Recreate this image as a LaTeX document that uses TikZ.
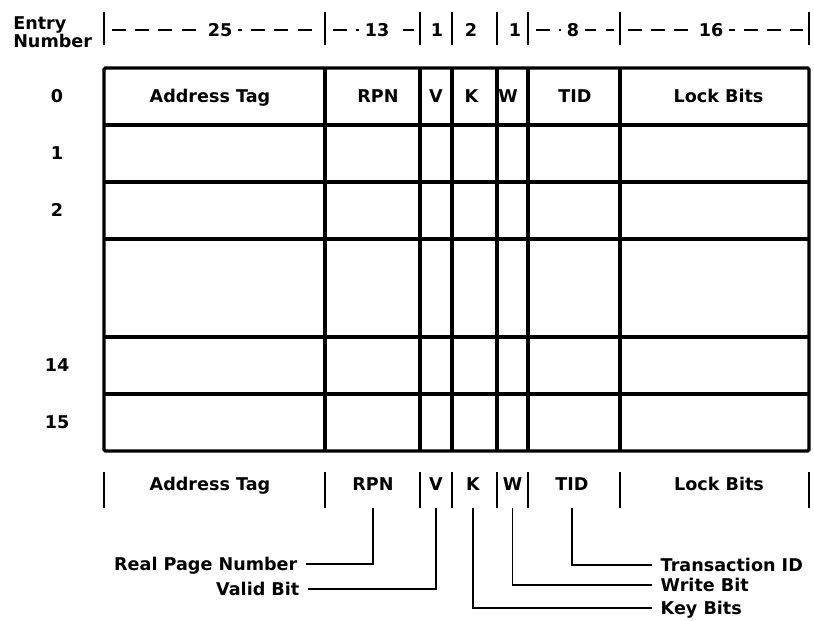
\documentclass[tikz,border=0pt]{standalone}
\usepackage{fontspec}
\setmainfont{DejaVu Sans}
\usepackage{tikz}
\usetikzlibrary{positioning}

\begin{document}
\begin{tikzpicture}[
    x=0.025cm, y=-0.025cm,
    every node/.style={font=\fontsize{12.5}{15}\selectfont\bfseries},
    grid/.style={line width=2.3pt},
    tick/.style={line width=1.5pt},
    dim/.style={line width=1.4pt, dash pattern=on 10pt off 6.5pt},
    cell/.style={text height=9pt, text depth=2.5pt},
    num/.style={cell, fill=white, inner xsep=4pt, inner ysep=1pt},
    field/.style={inner ysep=0pt, text height=9pt, text depth=8.5pt, minimum height=0.9cm},
    call/.style={inner xsep=6pt, text height=9pt, text depth=0pt},
    lead/.style={line width=1.4pt}
]
\useasboundingbox (0,0) rectangle (814,620);

% Header: field widths
\node[anchor=west, align=left, inner sep=0pt, font=\fontsize{12.5}{12.8}\selectfont\bfseries] (entry) at (13,32) {Entry\\Number};
\foreach \x in {104,325,420,452,497,528,620,809}
    \draw[tick] (\x,12) -- (\x,45);
\foreach \a/\b/\m/\t/\n in {104/325/220/25/htag, 325/420/377/13/hrpn, 528/620/573/8/htid, 620/809/711/16/hlock}
{
    \draw[dim] (\a+8,30) -- (\b-6,30);
    \node[num] (\n) at (\m,32) {\t};
}
\foreach \m/\t/\n in {437/1/hv, 471/2/hk, 515/1/hw}
    \node[cell] (\n) at (\m,32) {\t};

% Table
\draw[grid, rounded corners=1pt] (104,68) rectangle (809,451);
\foreach \y in {125,182,239,337,394}
    \draw[grid] (104,\y) -- (809,\y);
\foreach \x in {325,420,452,497,528,620}
    \draw[grid] (\x,68) -- (\x,451);

% Entry numbers
\foreach \n/\y in {0/96.5, 1/153.5, 2/210.5, 14/365.5, 15/422.5}
    \node[cell] (e\n) at (57,\y+1.5) {\n};

% Entry 0 fields
\foreach \n/\x/\t in {tag/210/Address Tag, rpn/378/RPN, v/436/V, k/471.5/K, w/508/W, tid/575/TID, lock/718.5/Lock Bits}
    \node[cell] (r\n) at (\x,98) {\t};

% Field legend
\foreach \x in {104,325,420,452,497,528,620,809}
    \draw[tick] (\x,472) -- (\x,508);
\foreach \n/\x/\t in {tag/210/Address Tag, rpn/373/RPN, v/436/V, k/473/K, w/512.5/W, tid/572/TID, lock/719/Lock Bits}
    \node[field] (b\n) at (\x,490) {\t};

% Callouts
\node[call, anchor=east] (rpnt) at (306,564) {Real Page Number};
\node[call, anchor=east] (vt) at (308,589) {Valid Bit};
\node[call, anchor=west] (tidt) at (652,565) {Transaction ID};
\node[call, anchor=west] (wt) at (652,585) {Write Bit};
\node[call, anchor=west] (kt) at (652,608) {Key Bits};

\draw[lead] (brpn.south) |- (rpnt.east);
\draw[lead] (bv.south) |- (vt.east);
\draw[lead] (btid.south) |- (tidt.west);
\draw[lead] (bw.south) |- (wt.west);
\draw[lead] (bk.south) |- (kt.west);

\end{tikzpicture}
\end{document}
